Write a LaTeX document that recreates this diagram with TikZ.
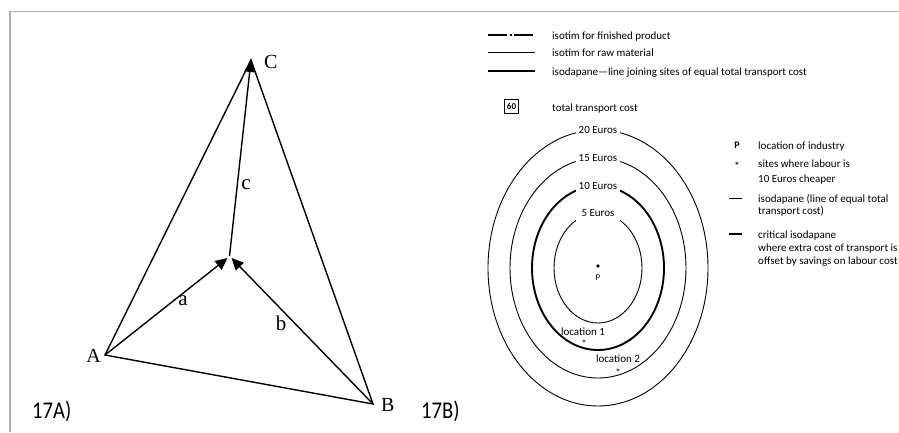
\documentclass[tikz,border=0pt]{standalone}
\usepackage{fontspec}
\setmainfont{Carlito}
\newfontfamily\seriffont{Liberation Serif}
\usetikzlibrary{arrows.meta}
\begin{document}
\begin{tikzpicture}[x=1pt,y=-1pt,
  frame/.style={draw=gray!60,line width=1.5pt},
  edge/.style={line width=1.4pt},
  arr/.style={line width=1.4pt,-{Triangle[length=12pt,width=11pt]}},
  vlabel/.style={font=\seriffont\fontsize{20}{20}\selectfont,inner sep=0pt},
  elabel/.style={font=\seriffont\fontsize{21}{21}\selectfont,inner sep=0pt},
  fig/.style={font=\fontsize{24}{24}\selectfont,inner sep=0pt,xscale=0.86,transform shape,anchor=base west},
  legtext/.style={font=\fontsize{11}{11}\selectfont,inner sep=0pt,anchor=base west},
  keytext/.style={font=\fontsize{11}{11}\selectfont,inner sep=0pt,anchor=base west},
  ringlabel/.style={font=\fontsize{11}{11}\selectfont,fill=white,inner sep=2.5pt},
  small/.style={font=\fontsize{11}{11}\selectfont,inner sep=0pt},
  ring/.style={line width=0.9pt},
  critring/.style={line width=1.9pt}
]
\useasboundingbox (0,0) rectangle (899,432);
% frame
\draw[frame] (10,432) -- (10,11.5) -- (899,11.5);

% ---------- 17A ----------
\coordinate (A) at (105,355);
\coordinate (B) at (373,404);
\coordinate (C) at (251,60);
\coordinate (M) at (229.5,256);
\coordinate (Ma) at (227.5,258);
\coordinate (Mb) at (231.5,258);
\draw[edge] (A) -- (C) -- (B) -- cycle;
\draw[arr] (M) -- (C);
\draw[arr] (A) -- (Ma);
\draw[arr] (B) -- (Mb);
\node[vlabel,anchor=east] (lA) at (101,356) {A};
\node[vlabel,anchor=west] (lB) at (381,405) {B};
\node[vlabel,anchor=west] (lC) at (264,62) {C};
\node[elabel] (la) at (183,301) {a};
\node[elabel] (lb) at (281,323) {b};
\node[elabel] (lc) at (246,185) {c};
\node[fig] (f17a) at (32,418) {17A)};
\node[fig] (f17b) at (421,418) {17B)};

% ---------- 17B legend ----------
\coordinate (s1a) at (488,35);  \coordinate (s1b) at (535,35);
\coordinate (s2a) at (488,52);  \coordinate (s2b) at (535,52);
\coordinate (s3a) at (488,71);  \coordinate (s3b) at (535,71);
\draw[line width=1.8pt,dash pattern=on 19pt off 2.5pt on 2pt off 2.5pt on 19pt] (s1a) -- (s1b);
\draw[line width=0.9pt] (s2a) -- (s2b);
\draw[line width=2.2pt] (s3a) -- (s3b);
\node[legtext] (t1) at (552,39) {isotim for finished product};
\node[legtext] (t2) at (552,56) {isotim for raw material};
\node[legtext] (t3) at (552,75) {isodapane---line joining sites of equal total transport cost};
\node[draw,line width=0.7pt,font=\fontsize{9}{9}\selectfont\bfseries,inner sep=0pt,minimum width=14pt,minimum height=14pt] (box60) at (511.5,106.5) {60};
\node[legtext] (t4) at (552,111) {total transport cost};

% ---------- rings ----------
\coordinate (P) at (598,268);
\draw[ring] (P) ellipse [x radius=110, y radius=138];
\draw[ring] (P) ellipse [x radius=88, y radius=110];
\draw[critring] (P) ellipse [x radius=66, y radius=82];
\draw[ring] (P) ellipse [x radius=44, y radius=55];
\node[ringlabel] (r20) at (598,130) {20 Euros};
\node[ringlabel] (r15) at (598,158) {15 Euros};
\node[ringlabel] (r10) at (598,186) {10 Euros};
\node[ringlabel,inner xsep=6pt,inner ysep=4pt] (r5) at (598,213) {5 Euros};
\fill (598,266) circle (1.9pt);
\node[small,font=\fontsize{9}{9}\selectfont] (lP) at (598,278) {P};
\node[small] (loc1) at (583,332) {location 1};
\node[small] (st1) at (584,344) {*};
\node[small] (loc2) at (618,359) {location 2};
\node[small] (st2) at (618,373) {*};

% ---------- right legend ----------
\node[small,font=\fontsize{10}{10}\selectfont\bfseries] (kP) at (737,145) {P};
\node[keytext] (kPt) at (758,149) {location of industry};
\node[small,font=\fontsize{12}{12}\selectfont] (kS) at (737,166) {*};
\node[keytext] (kSt1) at (758,167) {sites where labour is};
\node[keytext] (kSt2) at (758,182) {10 Euros cheaper};
\coordinate (k1a) at (729,198); \coordinate (k1b) at (742,198);
\draw[line width=0.9pt] (k1a) -- (k1b);
\node[keytext] (k1t1) at (758,202) {isodapane (line of equal total};
\node[keytext] (k1t2) at (758,214) {transport cost)};
\coordinate (k2a) at (729,234); \coordinate (k2b) at (742,234);
\draw[line width=2pt] (k2a) -- (k2b);
\node[keytext] (k2t1) at (758,238) {critical isodapane};
\node[keytext] (k2t2) at (758,251) {where extra cost of transport is};
\node[keytext] (k2t3) at (758,264) {offset by savings on labour cost};
\end{tikzpicture}
\end{document}
